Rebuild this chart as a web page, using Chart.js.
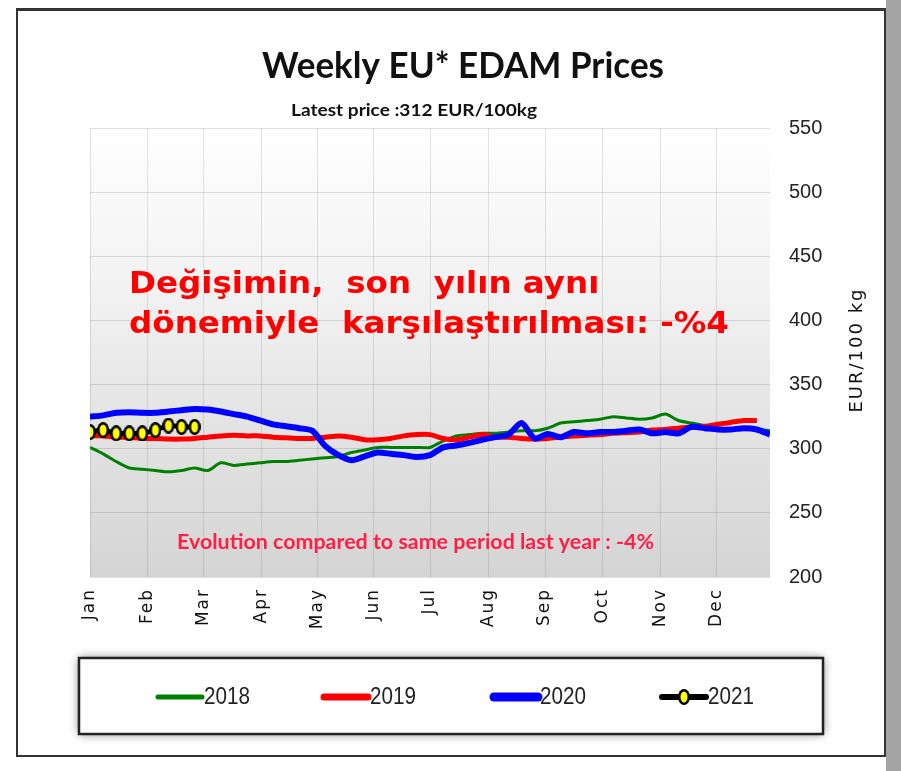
<!DOCTYPE html>
<html>
<head>
<meta charset="utf-8">
<title>Weekly EU* EDAM Prices</title>
<script src="https://cdn.jsdelivr.net/npm/chart.js@4.4.1/dist/chart.umd.min.js"></script>
<style>
    html, body { margin: 0; padding: 0; background: #fff; }
    canvas { display: block; }
</style>
</head>
<body>
<canvas id="edam-chart" width="901" height="771"></canvas>
<script>
// ── Data (weekly, week 0 = first week of Jan) ────────────────────────────────
const MONTHS = ['Jan', 'Feb', 'Mar', 'Apr', 'May', 'Jun', 'Jul', 'Aug', 'Sep', 'Oct', 'Nov', 'Dec'];
const MONTH_WEEKS = [0, 4.4, 8.7, 13.1, 17.4, 21.7, 26.0, 30.5, 34.8, 39.2, 43.6, 47.9];
const Y_TICKS = [200, 250, 300, 350, 400, 450, 500, 550];

const prices2018 = [301, 296, 290, 285, 284, 283, 282, 283, 285, 283,
                    289, 287, 288, 289, 290, 290, 291, 292, 293, 294,
                    297, 299, 301, 301, 301, 301, 301, 306, 310, 311,
                    312, 312, 313, 314, 314, 316, 320, 321, 322, 323,
                    325, 324, 323, 324, 327, 322, 320, 318, 316, 315,
                    315, 315, 314];
const prices2019 = [310, 310, 309, 309, 308, 308, 307.5, 307.5, 308, 309,
                    310, 310.5, 310, 310, 309, 308.5, 308, 308, 309, 310,
                    309, 307, 307, 308, 310, 311, 311, 308, 307, 309,
                    311, 309, 309, 308, 307.5, 308, 309, 310, 310.5, 311,
                    312, 312.5, 313, 314.5, 315, 316, 317, 317.5, 319, 320.5,
                    322, 322];
const prices2020 = [325, 326, 328, 328.5, 328, 328, 329, 330, 331, 330.5,
                    329, 327, 325, 322, 319, 317.5, 316, 314, 302, 295,
                    291, 294, 297, 296, 295, 293.5, 295, 301, 302.5, 304.5,
                    307, 309, 311, 320, 308, 311.5, 309, 313, 312, 313,
                    313, 314, 315, 312, 313, 312, 317, 316, 315, 315,
                    316, 315, 311];
const prices2021 = [313, 314.5, 312, 312, 312, 314.5, 318, 317, 317];

const SERIES = [
    { label: '2021', values: prices2021, color: '#000000', width: 5, order: 0 },
    { label: '2020', values: prices2020, color: '#0000ff', width: 6, order: 1 },
    { label: '2019', values: prices2019, color: '#ff0000', width: 5, order: 2 },
    { label: '2018', values: prices2018, color: '#008000', width: 3, order: 3 }
];

// yellow/black marker used by the 2021 series
function makeMarker() {
    const c = document.createElement('canvas');
    c.width = 12; c.height = 16;
    const g = c.getContext('2d');
    g.fillStyle = '#000';
    g.beginPath(); g.ellipse(6, 8, 6, 8, 0, 0, Math.PI * 2); g.fill();
    g.fillStyle = '#ffff00';
    g.beginPath(); g.ellipse(6, 8, 3.5, 5.5, 0, 0, Math.PI * 2); g.fill();
    return c;
}
const marker = makeMarker();

// draw text squeezed/stretched to a given width (left aligned at x)
function fitText(ctx, text, x, y, font, width) {
    ctx.save();
    ctx.font = font;
    const w = ctx.measureText(text).width;
    ctx.translate(x, y);
    ctx.scale(width ? width / w : 1, 1);
    ctx.textAlign = 'left';
    ctx.fillText(text, 0, 0);
    ctx.restore();
}

const framePlugin = {
    id: 'frame',
    beforeDraw(chart) {
        const ctx = chart.ctx;
        const a = chart.chartArea;
        ctx.save();
        ctx.fillStyle = '#fff';
        ctx.fillRect(0, 0, chart.width, chart.height);
        // grey strip on the right edge
        ctx.fillStyle = '#a3a3a3';
        ctx.fillRect(886, 0, 15, chart.height);
        // outer frame
        ctx.strokeStyle = '#333';
        ctx.lineWidth = 2;
        ctx.strokeRect(17, 10, 868, 746);
        ctx.lineWidth = 3;
        ctx.beginPath(); ctx.moveTo(16, 9.5); ctx.lineTo(886, 9.5); ctx.stroke();
        // plot background gradient
        const grad = ctx.createLinearGradient(0, a.top, 0, a.bottom);
        grad.addColorStop(0, '#ffffff');
        grad.addColorStop(0.35, '#f2f2f2');
        grad.addColorStop(1, '#d4d4d4');
        ctx.fillStyle = grad;
        ctx.fillRect(a.left, a.top, a.right - a.left, a.bottom - a.top);
        ctx.restore();
    },
    afterDraw(chart) {
        const ctx = chart.ctx;
        const xs = chart.scales.x;
        ctx.save();
        ctx.textBaseline = 'alphabetic';

        // titles
        ctx.fillStyle = '#111';
        fitText(ctx, 'Weekly EU* EDAM Prices', 262, 78, 'bold 36px Lato', 402);
        fitText(ctx, 'Latest price :312 EUR/100kg', 291, 116, 'bold 17px Lato', 246);

        // Turkish annotation
        ctx.fillStyle = '#ff0000';
        const tFont = 'bold 31px "DejaVu Sans"';
        ctx.font = tFont;
        const line2 = 'dönemiyle  karşılaştırılması: -%4';
        const k = 600 / ctx.measureText(line2).width;
        const line1 = 'Değişimin,  son  yılın aynı';
        fitText(ctx, line1, 129, 293, tFont, ctx.measureText(line1).width * k);
        fitText(ctx, line2, 129, 333, tFont, 600);

        // English annotation
        ctx.fillStyle = '#ff1f45';
        fitText(ctx, 'Evolution compared to same period last year : -4%', 177, 549, 'bold 21px Lato', 477);

        // month labels (rotated, reading upwards)
        ctx.fillStyle = '#111';
        ctx.font = '17px "DejaVu Sans"';
        ctx.letterSpacing = '2px';
        ctx.textAlign = 'right';
        ctx.textBaseline = 'middle';
        MONTHS.forEach((m, i) => {
            ctx.save();
            ctx.translate(xs.getPixelForValue(MONTH_WEEKS[i]), 588);
            ctx.rotate(-Math.PI / 2);
            ctx.fillText(m, 0, 0);
            ctx.restore();
        });

        // y axis title
        ctx.font = '18px "DejaVu Sans"';
        ctx.letterSpacing = '2px';
        ctx.textAlign = 'center';
        ctx.save();
        ctx.translate(857, 350);
        ctx.rotate(-Math.PI / 2);
        ctx.fillText('EUR/100 kg', 0, 0);
        ctx.restore();
        ctx.letterSpacing = '0px';

        // legend box
        ctx.save();
        ctx.shadowColor = 'rgba(0,0,0,0.55)';
        ctx.shadowBlur = 9;
        ctx.fillStyle = '#fff';
        ctx.fillRect(79, 658, 744, 76);
        ctx.restore();
        ctx.strokeStyle = '#222';
        ctx.lineWidth = 2.5;
        ctx.strokeRect(79, 658, 744, 76);

        const legendItems = [
            { label: '2018', color: '#008000', width: 5, x: 156 },
            { label: '2019', color: '#ff0000', width: 7, x: 322 },
            { label: '2020', color: '#0000ff', width: 9, x: 492 },
            { label: '2021', color: '#000000', width: 6, x: 660 }
        ];
        const ly = 697;
        legendItems.forEach(item => {
            ctx.strokeStyle = item.color;
            ctx.lineWidth = item.width;
            ctx.lineCap = 'round';
            ctx.beginPath(); ctx.moveTo(item.x + 2, ly); ctx.lineTo(item.x + 46, ly); ctx.stroke();
            if (item.label === '2021') ctx.drawImage(marker, item.x + 18, ly - 8);
            ctx.fillStyle = '#222';
            ctx.textBaseline = 'middle';
            fitText(ctx, item.label, item.x + 48, ly + 1, '23px "Liberation Sans"', 46);
        });
        ctx.restore();
    }
};

const ctx = document.getElementById('edam-chart').getContext('2d');
new Chart(ctx, {
    type: 'line',
    data: {
        datasets: SERIES.map(s => ({
            label: s.label,
            data: s.values.map((v, i) => ({ x: i, y: v })),
            borderColor: s.color,
            backgroundColor: s.color,
            borderWidth: s.width,
            order: s.order,
            tension: 0.25,
            fill: false,
            pointRadius: s.label === '2021' ? 6 : 0,
            pointStyle: s.label === '2021' ? marker : 'circle'
        }))
    },
    options: {
        responsive: false,
        animation: false,
        devicePixelRatio: 1,
        layout: { padding: { left: 90, top: 128, right: 51, bottom: 134 } },
        plugins: { legend: { display: false }, tooltip: { enabled: false }, title: { display: false } },
        scales: {
            x: {
                type: 'linear',
                min: 0,
                max: 52,
                afterBuildTicks: s => { s.ticks = MONTH_WEEKS.map(v => ({ value: v })); },
                afterFit: s => { s.height = 60; },
                ticks: { display: false },
                grid: { color: 'rgba(0,0,0,0.10)', drawTicks: false },
                border: { display: false }
            },
            y: {
                position: 'right',
                min: 200,
                max: 550,
                afterBuildTicks: s => { s.ticks = Y_TICKS.map(v => ({ value: v })); },
                afterFit: s => { s.width = 80; },
                ticks: { color: '#222', font: { family: 'Liberation Sans', size: 20 }, padding: 19 },
                grid: { color: 'rgba(0,0,0,0.12)', drawTicks: false },
                border: { display: false }
            }
        }
    },
    plugins: [framePlugin]
});
</script>
</body>
</html>
